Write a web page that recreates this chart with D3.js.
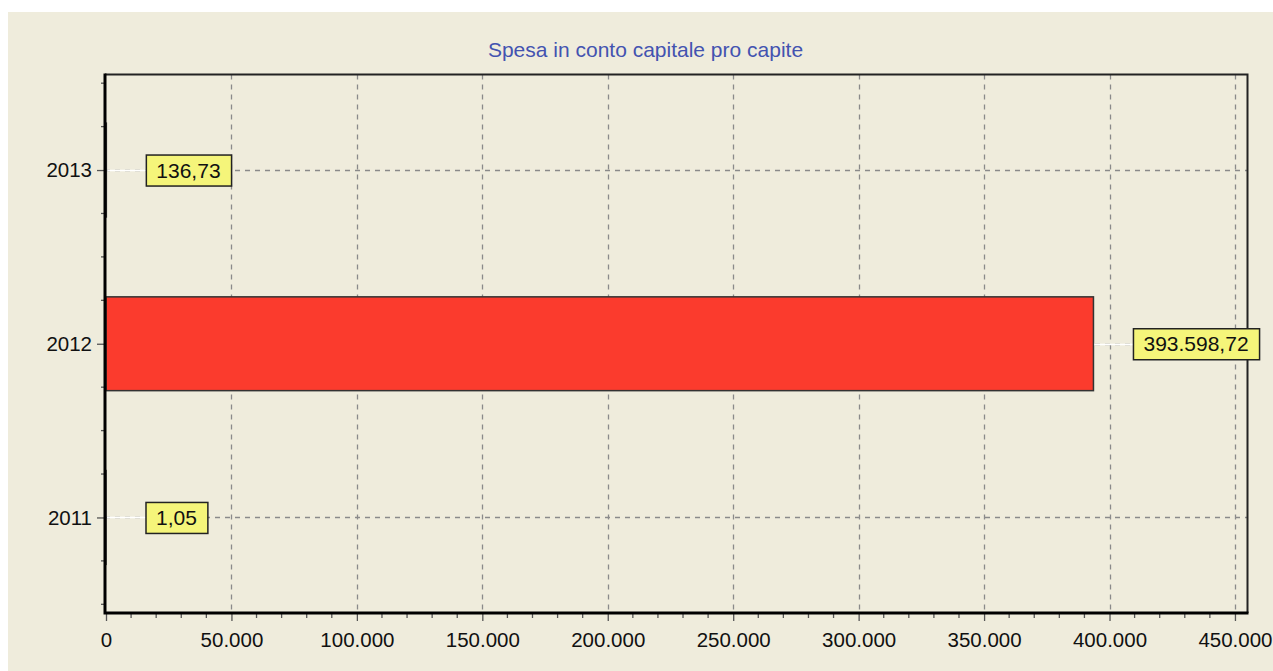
<!DOCTYPE html>
<html>
<head>
<meta charset="utf-8">
<script src="https://cdn.jsdelivr.net/npm/d3@7"></script>
<style>
  html, body { margin:0; padding:0; background:#fff; }
  svg { display:block; font-family:"Liberation Sans", Arial, sans-serif; }
</style>
</head>
<body>
<div id="chart"></div>
<script>
// data
var years = [2011, 2012, 2013]
var values = [1.05, 393598.72, 136.73]
var valueLabels = ['1,05', '393.598,72', '136,73']
var xTicks = [0, 50000, 100000, 150000, 200000, 250000, 300000, 350000, 400000, 450000]
var title = 'Spesa in conto capitale pro capite'

var W = 1273, H = 671
var m = { top:74.5, right:1273-1247.5, bottom:671-613, left:105 }

var svg = d3.select('#chart').append('svg')
    .attr('width', W)
    .attr('height', H)

// beige panel
svg.append('rect')
    .attr('x', 8).attr('y', 12)
    .attr('width', W - 8).attr('height', H - 12)
    .attr('fill', '#efecdc')

var x = d3.scaleLinear()
    .domain([0, 455000])
    .range([m.left + 1, W - m.right])

var y = d3.scaleLinear()
    .domain([2010.45, 2013.55])
    .range([H - m.bottom, m.top])

var fmt = d3.formatLocale({ decimal:',', thousands:'.', grouping:[3], currency:['', ''] }).format(',')

// vertical grid
svg.append('g').selectAll('line')
    .data(xTicks.slice(1))
  .enter().append('line')
    .attr('x1', d=> Math.round(x(d)) + 0.5)
    .attr('x2', d=> Math.round(x(d)) + 0.5)
    .attr('y1', m.top)
    .attr('y2', H - m.bottom)
    .attr('stroke', '#8a8a8a')
    .attr('stroke-width', 1.3)
    .attr('stroke-dasharray', '5,5')

// horizontal grid
svg.append('g').selectAll('line')
    .data(years)
  .enter().append('line')
    .attr('x1', m.left)
    .attr('x2', W - m.right)
    .attr('y1', d=> Math.round(y(d)) + 0.5)
    .attr('y2', d=> Math.round(y(d)) + 0.5)
    .attr('stroke', '#8a8a8a')
    .attr('stroke-width', 1.3)
    .attr('stroke-dasharray', '5,5')

// bars
var halfBar = 0.27
svg.append('g').selectAll('rect')
    .data(years.map((yr, i)=> ({ year:yr, value:values[i], label:valueLabels[i] })))
  .enter().append('rect')
    .attr('x', x(0))
    .attr('y', d=> y(d.year + halfBar))
    .attr('width', d=> Math.max(0, x(d.value) - x(0)))
    .attr('height', d=> y(d.year - halfBar) - y(d.year + halfBar))
    .attr('fill', '#fb3b2d')
    .attr('stroke', '#333')
    .attr('stroke-width', 1.5)

// plot frame: top and right thin, left and bottom thick
svg.append('path')
    .attr('d', 'M' + m.left + ',' + m.top + 'H' + (W - m.right) + 'V' + (H - m.bottom))
    .attr('fill', 'none')
    .attr('stroke', '#222')
    .attr('stroke-width', 2)

// x axis
var xAxis = svg.append('g')
    .attr('transform', 'translate(0,' + (H - m.bottom) + ')')
    .call(d3.axisBottom(x)
        .tickValues(xTicks)
        .tickSize(8)
        .tickFormat(d=> fmt(d)))
xAxis.select('.domain').remove()
xAxis.selectAll('.tick line').attr('stroke', '#555').attr('stroke-width', 1.3)
xAxis.selectAll('.tick text')
    .attr('dy', 0)
    .attr('y', 34)
    .attr('fill', '#111')
    .style('font-size', '20.5px')
    .style('font-family', '"Liberation Sans", Arial, sans-serif')

// minor x ticks
svg.append('g').selectAll('line')
    .data(d3.range(10000, 455000, 10000).filter(d=> d % 50000 != 0))
  .enter().append('line')
    .attr('x1', d=> x(d)).attr('x2', d=> x(d))
    .attr('y1', H - m.bottom).attr('y2', H - m.bottom + 5)
    .attr('stroke', '#555')
    .attr('stroke-width', 1.3)

// y axis
var yAxis = svg.append('g')
    .attr('transform', 'translate(' + m.left + ',0)')
    .call(d3.axisLeft(y)
        .tickValues(years)
        .tickSize(8)
        .tickPadding(5)
        .tickFormat(d=> String(d)))
yAxis.select('.domain').remove()
yAxis.selectAll('.tick line').attr('stroke', '#555').attr('stroke-width', 1.3)
yAxis.selectAll('.tick text')
    .attr('fill', '#111')
    .style('font-size', '20.5px')
    .style('font-family', '"Liberation Sans", Arial, sans-serif')

// minor y ticks
svg.append('g').selectAll('line')
    .data(d3.range(2010.5, 2013.6, 0.25).filter(d=> d % 1 != 0))
  .enter().append('line')
    .attr('x1', m.left - 4).attr('x2', m.left)
    .attr('y1', d=> y(d)).attr('y2', d=> y(d))
    .attr('stroke', '#555')
    .attr('stroke-width', 1.3)

// thick left and bottom axis lines
svg.append('path')
    .attr('d', 'M' + m.left + ',' + (m.top - 1) + 'V' + (H - m.bottom) + 'H' + (W - m.right + 1))
    .attr('fill', 'none')
    .attr('stroke', '#000')
    .attr('stroke-width', 3)

// value labels
var lab = svg.append('g').selectAll('g')
    .data(years.map((yr, i)=> ({ year:yr, value:values[i], label:valueLabels[i] })))
  .enter().append('g')

lab.append('line')
    .attr('x1', d=> x(d.value) + 1)
    .attr('x2', d=> x(d.value) + 40)
    .attr('y1', d=> Math.round(y(d.year)) + 0.5)
    .attr('y2', d=> Math.round(y(d.year)) + 0.5)
    .attr('stroke', '#fff')
    .attr('stroke-width', 1.5)

var labText = lab.append('text')
    .attr('x', d=> x(d.value) + 50)
    .attr('y', d=> y(d.year))
    .attr('dy', '0.36em')
    .attr('fill', '#111')
    .style('font-size', '21px')
    .text(d=> d.label)

labText.each(function(d) {
    var bb = this.getBBox()
    d3.select(this.parentNode).insert('rect', 'text')
        .attr('x', x(d.value) + 40)
        .attr('y', y(d.year) - 15)
        .attr('width', bb.width + 21)
        .attr('height', 31)
        .attr('fill', '#f5f57a')
        .attr('stroke', '#222')
        .attr('stroke-width', 1.5)
})

// title
svg.append('text')
    .attr('x', 645.5)
    .attr('y', 57)
    .attr('text-anchor', 'middle')
    .attr('fill', '#4353b0')
    .style('font-size', '21px')
    .text(title)
</script>
</body>
</html>
